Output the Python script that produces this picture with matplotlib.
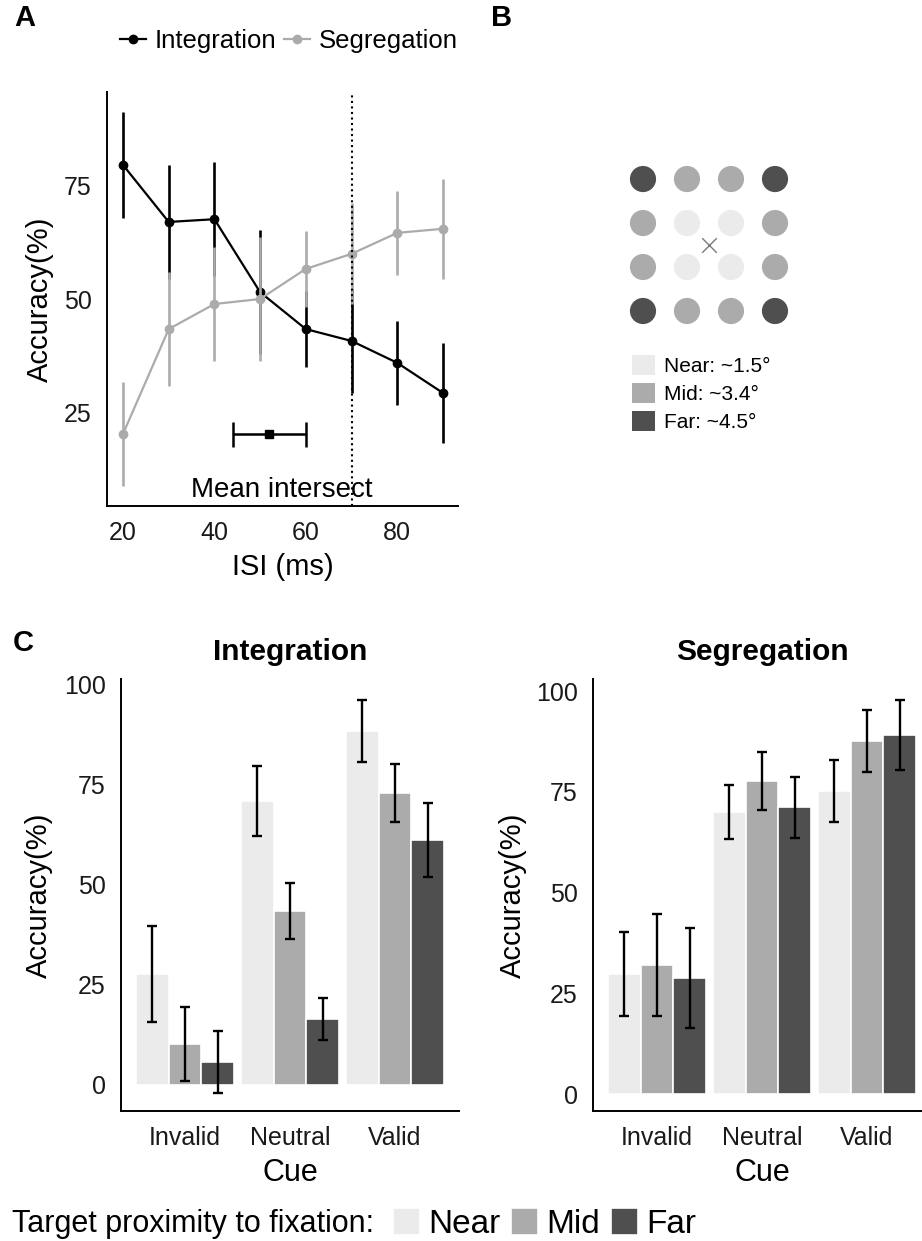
import matplotlib
matplotlib.use("Agg")
import matplotlib.pyplot as plt
from matplotlib.patches import Patch
from matplotlib.lines import Line2D
import numpy as np

plt.rcParams['font.family'] = ['Liberation Sans', 'DejaVu Sans']

# ---------------- data ----------------
isi = [20, 30, 40, 50, 60, 70, 80, 90]
integ_mean = [79.4, 66.9, 67.5, 51.5, 43.4, 40.8, 36.0, 29.4]
integ_err = [11.6, 12.5, 12.5, 13.6, 8.3, 11.4, 9.2, 11.0]
seg_mean = [20.4, 43.4, 48.9, 50.0, 56.6, 59.9, 64.5, 65.4]
seg_err = [11.5, 12.5, 12.5, 13.6, 8.4, 11.1, 9.2, 11.0]
intersect_mean = 52.0
intersect_err = 8.0
intersect_y = 20.4
vline_isi = 70

grid_layout = [['Far', 'Mid', 'Mid', 'Far'],
               ['Mid', 'Near', 'Near', 'Mid'],
               ['Mid', 'Near', 'Near', 'Mid'],
               ['Far', 'Mid', 'Mid', 'Far']]
proximity = ['Near', 'Mid', 'Far']
proximity_deg = ['~1.5°', '~3.4°', '~4.5°']

cues = ['Invalid', 'Neutral', 'Valid']
# rows: Near, Mid, Far ; columns: Invalid, Neutral, Valid
integ_acc = [[27.7, 71.0, 88.5],
             [10.3, 43.5, 73.0],
             [5.8, 16.5, 61.3]]
integ_acc_err = [[12.0, 8.7, 7.7],
                 [9.2, 6.9, 7.3],
                 [7.8, 5.2, 9.3]]
seg_acc = [[29.8, 70.0, 75.2],
           [32.0, 77.7, 87.6],
           [28.8, 71.2, 89.1]]
seg_acc_err = [[10.5, 6.6, 7.7],
               [12.6, 7.3, 7.7],
               [12.4, 7.6, 8.8]]

prox_colors = {'Near': '#ebebeb', 'Mid': '#ababab', 'Far': '#4f4f4f'}

# ---------------- figure ----------------
W, H = 922, 1241
fig = plt.figure(figsize=(W / 100, H / 100), dpi=100)


def box(l, t, r, b):
    return [l / W, 1 - b / H, (r - l) / W, (b - t) / H]


def style_axes(ax):
    for s in ['top', 'right']:
        ax.spines[s].set_visible(False)
    for s in ['left', 'bottom']:
        ax.spines[s].set_linewidth(1.4)
        ax.spines[s].set_color('black')
    ax.tick_params(length=0, pad=11, labelsize=18, colors='#1a1a1a')


# ---------------- Panel A ----------------
axA = fig.add_axes(box(107, 92, 458, 506))
style_axes(axA)
axA.errorbar(isi, integ_mean, yerr=integ_err, color='black', lw=1.6,
             elinewidth=1.9, marker='o', ms=6, capsize=0, zorder=3,
             label='Integration')
axA.errorbar(isi, seg_mean, yerr=seg_err, color='#ababab', lw=1.6,
             elinewidth=1.9, marker='o', ms=6, capsize=0, zorder=4,
             label='Segregation')
axA.axvline(vline_isi, color='black', ls=':', lw=1.5, zorder=5)
axA.errorbar([intersect_mean], [intersect_y], xerr=[intersect_err],
             color='black', marker='s', ms=6, capsize=9, elinewidth=1.8,
             capthick=1.8, zorder=5)
axA.text(54.8, 8.2, 'Mean intersect', ha='center', va='center', fontsize=20)
axA.set_xlim(16.5, 93.3)
axA.set_ylim(4.6, 95.4)
axA.set_xticks([20, 40, 60, 80])
axA.set_yticks([25, 50, 75])
axA.set_xlabel('ISI (ms)', fontsize=21)
axA.set_ylabel('Accuracy(%)', fontsize=21)
axA.xaxis.set_label_coords(0.5, -0.113)
axA.yaxis.set_label_coords(-0.152, 0.5)

legA_handles = [Line2D([], [], color='black', marker='o', ms=6, lw=1.6),
                Line2D([], [], color='#ababab', marker='o', ms=6, lw=1.6)]
fig.legend(legA_handles, ['Integration', 'Segregation'], loc='center',
           bbox_to_anchor=(289 / W, 1 - 41 / H), ncol=2, frameon=False,
           fontsize=18.5, handlelength=1.0, handletextpad=0.35,
           columnspacing=0.3, borderpad=0, borderaxespad=0)

# ---------------- Panel B ----------------
axB = fig.add_axes(box(600, 150, 830, 450))
axB.axis('off')
for r, row in enumerate(grid_layout):
    for c, cat in enumerate(row):
        axB.scatter([c], [r], s=355, color=prox_colors[cat], edgecolors='none')
axB.scatter([1.5], [1.5], marker='x', s=110, color='#7a7a7a', linewidths=1.0)
axB.set_xlim(-0.977, 4.25)
axB.set_ylim(6.16, -0.66)

legB_handles = [Patch(facecolor=prox_colors[p], edgecolor='none') for p in proximity]
legB_labels = [f'{p}: {d}' for p, d in zip(proximity, proximity_deg)]
fig.legend(legB_handles, legB_labels, loc='upper left',
           bbox_to_anchor=(632 / W, 1 - 355 / H), frameon=False, fontsize=15,
           handlelength=1.1, handleheight=1.1, handletextpad=0.45,
           labelspacing=0.34, borderpad=0, borderaxespad=0)

# ---------------- Panel C ----------------
def bar_panel(ax, acc, err, title, ylim):
    style_axes(ax)
    x = np.arange(len(cues))
    pitch = 0.31
    conts = []
    for j, p in enumerate(proximity):
        xs = x + (j - 1) * pitch
        bc = ax.bar(xs, acc[j], width=pitch, color=prox_colors[p],
                    edgecolor='white', linewidth=1.2, label=p, zorder=2)
        conts.append(bc)
        ax.errorbar(xs, acc[j], yerr=err[j], fmt='none', ecolor='black',
                    elinewidth=1.7, capsize=3.6, capthick=1.7, zorder=3)
    ax.set_xticks(x)
    ax.set_xticklabels(cues)
    ax.set_yticks([0, 25, 50, 75, 100])
    ax.set_xlim(-0.61, 2.61)
    ax.set_ylim(*ylim)
    ax.set_xlabel('Cue', fontsize=22)
    ax.set_ylabel('Accuracy(%)', fontsize=21)
    ax.xaxis.set_label_coords(0.5, -0.108)
    ax.set_title(title, fontsize=21.5, fontweight='bold', pad=0, y=1.044)
    return conts


axC1 = fig.add_axes(box(121, 679, 459, 1111))
conts = bar_panel(axC1, integ_acc, integ_acc_err, 'Integration', (-6.5, 101.5))
axC1.yaxis.set_label_coords(-0.201, 0.5)

axC2 = fig.add_axes(box(593, 679, 931, 1111))
bar_panel(axC2, seg_acc, seg_acc_err, 'Segregation', (-4.2, 103.0))
axC2.yaxis.set_label_coords(-0.195, 0.5)

fig.text(12 / W, 1 - 1224 / H, 'Target proximity to fixation:', ha='left',
         va='center', fontsize=22)
fig.legend([c.patches[0] for c in conts], proximity, loc='center left',
           bbox_to_anchor=(393 / W, 1 - 1224 / H), ncol=3, frameon=False,
           fontsize=24, handlelength=0.81, handleheight=0.87,
           handletextpad=0.24, columnspacing=0.33, borderpad=0,
           borderaxespad=0)

# panel letters
fig.text(14 / W, 1 - 18 / H, 'A', fontsize=21, fontweight='bold', va='center')
fig.text(491 / W, 1 - 18 / H, 'B', fontsize=21, fontweight='bold', va='center')
fig.text(13 / W, 1 - 643 / H, 'C', fontsize=21, fontweight='bold', va='center')

fig.savefig('out.png', dpi=100)
